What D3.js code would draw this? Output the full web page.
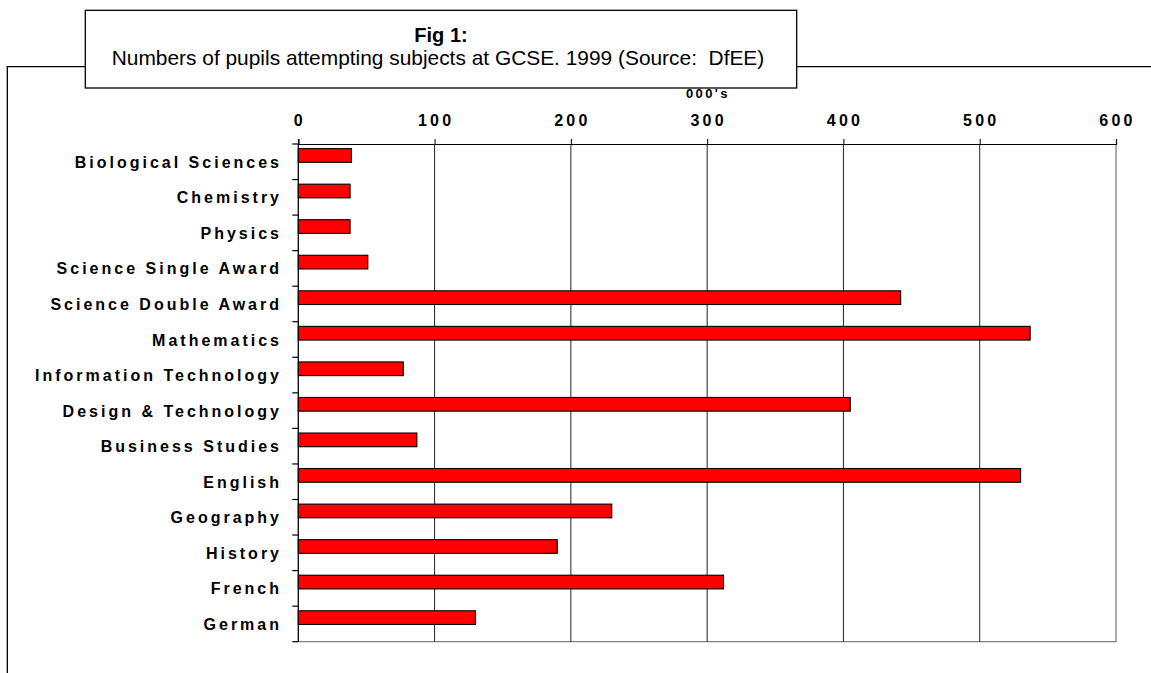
<!DOCTYPE html>
<html>
<head>
<meta charset="utf-8">
<script src="https://cdn.jsdelivr.net/npm/d3@7"></script>
<style>
  html, body { margin: 0; padding: 0; background: #fff; }
  svg { display: block; font-family: "Liberation Sans", Arial, sans-serif; }
</style>
</head>
<body>
<svg id="chart" width="1151" height="673"></svg>
<script>
// GCSE entries, 1999 (thousands of pupils)
const subjects = [
  "Biological Sciences", "Chemistry", "Physics", "Science Single Award",
  "Science Double Award", "Mathematics", "Information Technology",
  "Design & Technology", "Business Studies", "English", "Geography",
  "History", "French", "German"
];
const pupils = [39, 38, 38, 51, 442, 537, 77, 405, 87, 530, 230, 190, 312, 130];
const tickValues = [0, 100, 200, 300, 400, 500, 600];
const titleText = "Fig 1:";
const subtitleText = "Numbers of pupils attempting subjects at GCSE. 1999 (Source:\u00a0\u00a0DfEE)";
const unitText = "000's";

const svg = d3.select("#chart");

const plot = { left: 298.3, right: 1116, top: 144, bottom: 641.7 };

const x = d3.scaleLinear().domain([0, 600]).range([plot.left, plot.right]);
const y = d3.scaleBand().domain(subjects).range([plot.top, plot.bottom]).padding(0);
const step = y.step();

// outer frame around the figure
svg.append("path")
  .attr("d", `M85.3,66.7 H7.3 V680 M796.7,66.7 H1160`)
  .attr("fill", "none").attr("stroke", "#000").attr("stroke-width", 1.3);

// title box
svg.append("rect")
  .attr("x", 85.3).attr("y", 10.3).attr("width", 711.4).attr("height", 77.7)
  .attr("fill", "#fff").attr("stroke", "#000").attr("stroke-width", 1.3);
svg.append("text")
  .attr("x", 441).attr("y", 41.5).attr("text-anchor", "middle")
  .attr("font-size", 20).attr("font-weight", "bold").attr("fill", "#000")
  .text(titleText);
svg.append("text")
  .attr("x", 438).attr("y", 65).attr("text-anchor", "middle")
  .attr("font-size", 20.9).attr("fill", "#000")
  .text(subtitleText);

// plot frame: right and bottom edges grey
svg.append("path")
  .attr("d", `M${plot.right},${plot.top} V${plot.bottom} H${plot.left}`)
  .attr("fill", "none").attr("stroke", "#808080").attr("stroke-width", 1.3);

// vertical gridlines
svg.append("g").selectAll("line")
  .data(tickValues.slice(1, -1)).join("line")
  .attr("x1", d => x(d)).attr("x2", d => x(d))
  .attr("y1", plot.top).attr("y2", plot.bottom)
  .attr("stroke", "#222").attr("stroke-width", 1);

// top value axis
const xAxis = svg.append("g")
  .attr("transform", `translate(0,${plot.top})`)
  .call(d3.axisTop(x).tickValues(tickValues).tickSize(5).tickPadding(6).tickFormat(d3.format("d")));
xAxis.select(".domain").attr("stroke", "#000").attr("stroke-width", 1.2);
xAxis.selectAll(".tick line").attr("stroke", "#000");
xAxis.selectAll(".tick text")
  .attr("font-family", "Liberation Sans, Arial, sans-serif")
  .attr("font-size", 16).attr("font-weight", "bold").attr("fill", "#000")
  .attr("letter-spacing", "3.2px").attr("dx", "1px").attr("dy", "-7");

// unit label
svg.append("text")
  .attr("x", 708).attr("y", 97.5).attr("text-anchor", "middle")
  .attr("font-size", 13).attr("font-weight", "bold").attr("letter-spacing", "2.4px")
  .attr("fill", "#000").text(unitText);

// category axis on the left, ticks at band boundaries
const catAxis = svg.append("g");
catAxis.append("line")
  .attr("x1", plot.left).attr("x2", plot.left)
  .attr("y1", plot.top).attr("y2", plot.bottom)
  .attr("stroke", "#000").attr("stroke-width", 1.3);
catAxis.selectAll("line.tick")
  .data(d3.range(subjects.length + 1)).join("line").attr("class", "tick")
  .attr("x1", plot.left - 6).attr("x2", plot.left)
  .attr("y1", i => plot.top + i * step).attr("y2", i => plot.top + i * step)
  .attr("stroke", "#000").attr("stroke-width", 1.2);
catAxis.selectAll("text")
  .data(subjects).join("text")
  .attr("x", 282).attr("y", d => y(d) + step / 2 + 6)
  .attr("text-anchor", "end")
  .attr("font-size", 16).attr("font-weight", "bold").attr("letter-spacing", "3px")
  .attr("fill", "#000").text(d => d);

// bars
svg.append("g").selectAll("rect")
  .data(subjects.map((s, i) => ({ s, v: pupils[i] }))).join("rect")
  .attr("x", x(0))
  .attr("y", d => y(d.s) + step * 0.13)
  .attr("width", d => x(d.v) - x(0))
  .attr("height", step * 0.385)
  .attr("fill", "#ff0000").attr("stroke", "#000").attr("stroke-width", 1.1);
</script>
</body>
</html>
